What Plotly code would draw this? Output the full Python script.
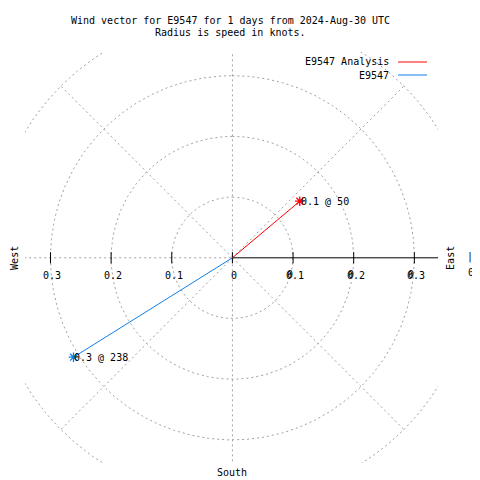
import numpy as np
import plotly.graph_objects as go

# ---- data ----
series_names = ["E9547 Analysis", "E9547"]
speeds = [0.145, 0.309]          # knots
directions = [50, 238]           # degrees clockwise from north
colors = ["#ff0000", "#0f7fe8"]
ring_values = [0.1, 0.2, 0.3, 0.4]
tick_values = [-0.3, -0.2, -0.1, 0.0, 0.1, 0.2, 0.3]
tick_labels = ["0.3", "0.2", "0.1", "0", "0.1", "0.2", "0.3"]
spoke_angles = [45, 135, 225, 315]

title_lines = ["Wind vector for E9547 for 1 days from 2024-Aug-30 UTC",
               "Radius is speed in knots."]

FONT = "DejaVu Sans Mono"
GRID = "#a0a0a0"
DASH = "2px,3px"

fig = go.Figure()

# grid circles
th = np.linspace(0, 2 * np.pi, 721)
for r in ring_values:
    fig.add_trace(go.Scatter(x=r * np.sin(th), y=r * np.cos(th), mode="lines",
                             line=dict(color=GRID, width=1, dash=DASH),
                             hoverinfo="skip", showlegend=False))
# diagonal spokes
for a in spoke_angles:
    rad = np.deg2rad(a)
    fig.add_trace(go.Scatter(x=[0, 0.4 * np.sin(rad)], y=[0, 0.4 * np.cos(rad)],
                             mode="lines", line=dict(color=GRID, width=1, dash=DASH),
                             hoverinfo="skip", showlegend=False))
# vertical & left horizontal grid
fig.add_trace(go.Scatter(x=[0, 0], y=[-0.5, 0.5], mode="lines",
                         line=dict(color=GRID, width=1, dash=DASH),
                         hoverinfo="skip", showlegend=False))
fig.add_trace(go.Scatter(x=[-0.5, 0], y=[0, 0], mode="lines",
                         line=dict(color=GRID, width=1, dash=DASH),
                         hoverinfo="skip", showlegend=False))
# radial axis (solid)
fig.add_trace(go.Scatter(x=[0, 0.5], y=[0, 0], mode="lines",
                         line=dict(color="black", width=1),
                         hoverinfo="skip", showlegend=False))
# tick marks
fig.add_trace(go.Scatter(x=tick_values, y=[0] * len(tick_values), mode="markers",
                         marker=dict(symbol="line-ns", size=8,
                                     line=dict(color="black", width=1)),
                         hoverinfo="skip", showlegend=False))

# wind vectors
for name, s, d, c in zip(series_names, speeds, directions, colors):
    rad = np.deg2rad(d)
    ex, ey = s * np.sin(rad), s * np.cos(rad)
    fig.add_trace(go.Scatter(x=[0, ex], y=[0, ey], mode="lines",
                             line=dict(color=c, width=1), name=name,
                             showlegend=False))
    fig.add_trace(go.Scatter(x=[ex], y=[ey], mode="markers",
                             marker=dict(symbol="asterisk-open", size=8, color=c,
                                         line=dict(color=c, width=1.3)),
                             showlegend=False, hoverinfo="skip"))
    fig.add_annotation(x=ex, y=ey, text=f"{s:.1f} @ {d}", showarrow=False,
                       xanchor="left", yanchor="middle", xshift=-1,
                       font=dict(family=FONT, size=10, color="black"))

# tick labels
for v, lab in zip(tick_values, tick_labels):
    fig.add_annotation(x=v, y=0, text=lab, showarrow=False, xanchor="center",
                       yanchor="middle", xshift=2, yshift=-18,
                       font=dict(family=FONT, size=10, color="black"))
    if v > 0:
        fig.add_annotation(x=v, y=0, text="0", showarrow=False, xanchor="center",
                           yanchor="middle", xshift=-3, yshift=-17,
                           font=dict(family=FONT, size=10, color="black"))

# compass labels
fig.add_annotation(xref="paper", yref="paper", x=-10 / 413, y=0.499, text="West",
                   textangle=-90, showarrow=False, xanchor="center", yanchor="middle",
                   font=dict(family=FONT, size=10, color="black"))
fig.add_annotation(xref="paper", yref="paper", x=(451 - 25) / 413, y=0.499, text="East",
                   textangle=-90, showarrow=False, xanchor="center", yanchor="middle",
                   font=dict(family=FONT, size=10, color="black"))
fig.add_annotation(xref="paper", yref="paper", x=0.5, y=-2 / 411, text="South",
                   showarrow=False, xanchor="center", yanchor="top",
                   font=dict(family=FONT, size=10, color="black"))
fig.add_annotation(xref="paper", yref="paper", x=(470 - 25) / 413, y=1 - (257 - 52) / 411,
                   text="|", showarrow=False, xanchor="center", yanchor="middle",
                   font=dict(family=FONT, size=10, color="black"))
fig.add_annotation(xref="paper", yref="paper", x=(466 - 25) / 413, y=1 - (272 - 52) / 411,
                   text="0.", showarrow=False, xanchor="left", yanchor="middle",
                   font=dict(family=FONT, size=10, color="black"))

# title
for i, t in enumerate(title_lines):
    fig.add_annotation(xref="paper", yref="paper", x=0.5, y=1 + (32 - 13 * i) / 411,
                       text=t, showarrow=False, xanchor="center", yanchor="middle",
                       xshift=-1, font=dict(family=FONT, size=10, color="black"))

# manual legend (text then sample line)
for i, (name, c) in enumerate(zip(series_names, colors)):
    ypix = 62 + 13 * i
    yp = 1 - (ypix - 52) / 411
    fig.add_annotation(xref="paper", yref="paper", x=(391 - 25) / 413, y=yp, text=name,
                       showarrow=False, xanchor="right", yanchor="middle",
                       font=dict(family=FONT, size=10, color="black"))
    fig.add_shape(type="line", xref="paper", yref="paper",
                  x0=(398 - 25) / 413, x1=(427 - 25) / 413, y0=yp, y1=yp,
                  line=dict(color=c, width=1))

# page body has an 8px default margin, so the figure is offset by 8px
fig.update_layout(
    width=472, height=472,
    margin=dict(l=17, r=42, t=44, b=17, autoexpand=False),
    paper_bgcolor="white", plot_bgcolor="white",
    showlegend=False,
    xaxis=dict(range=[-0.342, 0.339], visible=False, fixedrange=True),
    yaxis=dict(range=[-0.338, 0.339], visible=False, fixedrange=True),
)

fig.write_html("out.html")
